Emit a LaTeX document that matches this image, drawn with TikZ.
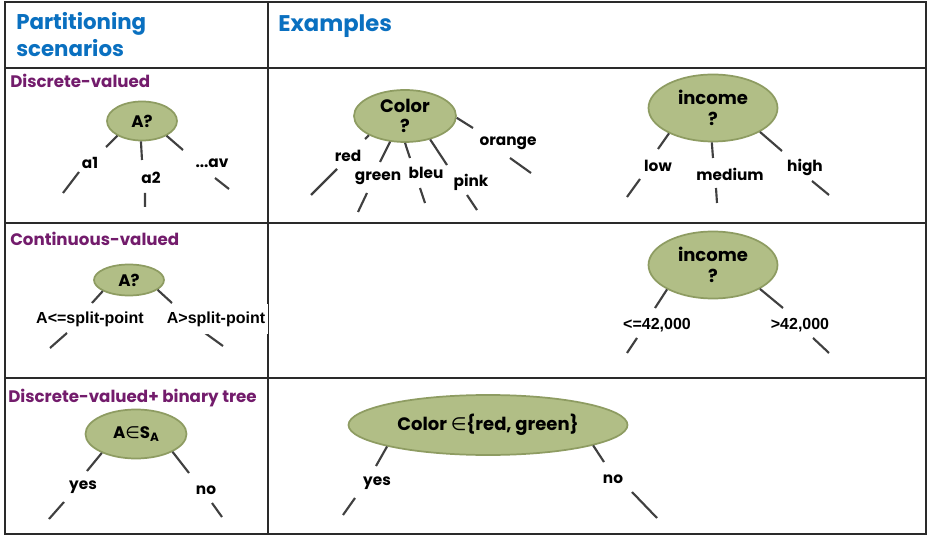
\documentclass[tikz,border=0pt]{standalone}
\usepackage{fontspec}
\setmainfont{Poppins}
\newfontfamily\arialf{Liberation Sans}
\newfontfamily\symf{DejaVu Sans}
\usetikzlibrary{shapes.geometric}
\definecolor{hblue}{HTML}{0A70C0}
\definecolor{hpurple}{HTML}{731C6C}
\definecolor{efill}{HTML}{B1BE86}
\definecolor{edraw}{HTML}{8E9C62}
\definecolor{lgray}{HTML}{404040}
\definecolor{gridc}{HTML}{2A2A2A}
\begin{document}
\begin{tikzpicture}[x=0.75pt,y=-0.75pt,
  grid/.style={draw=gridc, line width=1.1pt},
  ell/.style={ellipse, draw=edraw, fill=efill, line width=1.3pt, inner sep=0pt, align=center,
              font=\bfseries\fontsize{13.5}{15.5}\selectfont},
  esize/.style 2 args={minimum width=#1*0.75pt, minimum height=#2*0.75pt},
  br/.style={draw=lgray, line width=1.6pt},
  lab/.style={inner sep=1pt, font=\bfseries\fontsize{11.5}{13}\selectfont},
  alab/.style={inner sep=1pt, font=\arialf\bfseries\fontsize{12}{13}\selectfont},
  hdr/.style={text=hblue, font=\bfseries\fontsize{16}{20}\selectfont, anchor=base west, inner sep=0pt},
  cat/.style={text=hpurple, font=\bfseries\fontsize{12.5}{14}\selectfont, anchor=base west, inner sep=0pt}]
\useasboundingbox (0,0) rectangle (928,538);
\fill[white] (0,0) rectangle (928,538);
% table
\draw[grid] (5,2) rectangle (926,534);
\draw[grid] (268,2) -- (268,534);
\draw[grid] (5,68) -- (926,68);
\draw[grid] (5,223) -- (926,223);
\draw[grid] (5,378) -- (926,378);
% headers
\node[hdr] (h1) at (16,30) {Partitioning};
\node[hdr] (h2) at (16,57) {scenarios};
\node[hdr, font=\bfseries\fontsize{17}{20}\selectfont] (h3) at (278,32) {Examples};
\node[cat] (c1) at (10,88) {Discrete-valued};
\node[cat] (c2) at (10,246) {Continuous-valued};
\node[cat] (c3) at (8,402) {Discrete-valued+ binary tree};

% ---- row 1, scenario
\node[ell, esize={70}{39}, font=\bfseries\fontsize{12.5}{14}\selectfont] (A1) at (142,121) {A?};
\coordinate (a1s) at (106,147); \coordinate (a1t) at (79,172); \coordinate (a1e) at (63,193);
\coordinate (a2s) at (142,160); \coordinate (a2t) at (145,193); \coordinate (a2e) at (145,207);
\coordinate (a3s) at (183,150); \coordinate (a3t) at (215,178); \coordinate (a3e) at (229,189);
\draw[br] (A1.211) -- (a1s) (a1t) -- (a1e);
\draw[br] (A1.267) -- (a2s) (a2t) -- (a2e);
\draw[br] (A1.329) -- (a3s) (a3t) -- (a3e);
\node[lab] (la1) at (90,163) {a1};
\node[lab] (la2) at (151,178) {a2};
\node[lab] (la3) at (212,163) {...av};

% ---- row 1, example Color
\node[ell, esize={102}{52}] (C1) at (405,116) {Color\\?};
\coordinate (r1) at (365,139); \coordinate (r2) at (337,169); \coordinate (r3) at (311,195);
\coordinate (g1) at (380,162); \coordinate (g2) at (367,193); \coordinate (g3) at (358,212);
\coordinate (b1) at (410,158); \coordinate (b2) at (420,188); \coordinate (b3) at (425,203);
\coordinate (p1) at (447,165); \coordinate (p2) at (467,195); \coordinate (p3) at (477,210);
\coordinate (o1) at (473,128); \coordinate (o2) at (510,158); \coordinate (o3) at (531,173);
\draw[br] (C1.208) -- (r1) (r2) -- (r3);
\draw[br] (C1.240) -- (g1) (g2) -- (g3);
\draw[br] (C1.270) -- (b1) (b2) -- (b3);
\draw[br] (C1.317) -- (p1) (p2) -- (p3);
\draw[br] (C1.358) -- (o1) (o2) -- (o3);
\node[lab] (lr) at (348,156) {red};
\node[lab] (lg) at (378,178) {green};
\node[lab] (lb) at (426,173) {bleu};
\node[lab] (lp) at (471,182) {pink};
\node[lab] (lo) at (508,143) {orange};

% ---- row 1, example income
\node[ell, esize={129}{67}] (I1) at (713,108) {income\\?};
\coordinate (l1) at (658,149); \coordinate (l2) at (640,179); \coordinate (l3) at (627,197);
\coordinate (m1) at (713,158); \coordinate (m2) at (716,188); \coordinate (m3) at (717,203);
\coordinate (hh1) at (782,151); \coordinate (hh2) at (812,181); \coordinate (hh3) at (829,195);
\draw[br] (I1.210) -- (l1) (l2) -- (l3);
\draw[br] (I1.268) -- (m1) (m2) -- (m3);
\draw[br] (I1.333) -- (hh1) (hh2) -- (hh3);
\node[lab] (ll) at (658,166) {low};
\node[lab] (lm) at (730,174) {medium};
\node[lab] (lh) at (805,167) {high};

% ---- row 2, scenario
\node[ell, esize={70}{31}, font=\bfseries\fontsize{12.5}{14}\selectfont] (A2) at (129,280) {A?};
\coordinate (s1) at (92,303); \coordinate (s2) at (67,333); \coordinate (s3) at (50,348);
\coordinate (t1) at (172,303); \coordinate (t2) at (205,333); \coordinate (t3) at (223,346);
\draw[br] (A2.203) -- (s1) (s2) -- (s3);
\draw[br] (A2.341) -- (t1) (t2) -- (t3);
\node[alab] (ls) at (90,319) {A<=split-point};
\node[alab, fill=white, inner xsep=2pt, inner ysep=6pt] (lt) at (216,319) {A>split-point};

% ---- row 2, example income
\node[ell, esize={129}{67}] (I2) at (713,265) {income\\?};
\coordinate (u1) at (655,308); \coordinate (u2) at (637,338); \coordinate (u3) at (627,353);
\coordinate (v1) at (783,308); \coordinate (v2) at (813,338); \coordinate (v3) at (829,353);
\draw[br] (I2.208) -- (u1) (u2) -- (u3);
\draw[br] (I2.333) -- (v1) (v2) -- (v3);
\node[alab] (lu) at (657,325) {<=42,000};
\node[alab] (lv) at (800,325) {>42,000};

% ---- row 3, scenario
\node[ell, esize={101}{49}, font=\bfseries\fontsize{12.5}{14}\selectfont] (A3) at (136,434) {A{\symf\mdseries ∈}S\raisebox{-0.35ex}{\fontsize{9}{10}\selectfont A}};
\coordinate (y1) at (87,471); \coordinate (y2) at (64,502); \coordinate (y3) at (49,519);
\coordinate (n1) at (189,473); \coordinate (n2) at (212,503); \coordinate (n3) at (222,517);
\draw[br] (A3.209) -- (y1) (y2) -- (y3);
\draw[br] (A3.334) -- (n1) (n2) -- (n3);
\node[lab] (ly) at (83,487) {yes};
\node[lab] (ln) at (206,490) {no};

% ---- row 3, example
\node[ell, esize={279}{60}] (C3) at (488,425) {Color {\symf\mdseries ∈}\{red, green\}};
\coordinate (yy1) at (376,466); \coordinate (yy2) at (355,498); \coordinate (yy3) at (343,515);
\coordinate (nn1) at (604,462); \coordinate (nn2) at (632,492); \coordinate (nn3) at (657,518);
\draw[br] (C3.192) -- (yy1) (yy2) -- (yy3);
\draw[br] (C3.349) -- (nn1) (nn2) -- (nn3);
\node[lab] (lyy) at (377,483) {yes};
\node[lab] (lnn) at (613,479) {no};
\end{tikzpicture}
\end{document}
